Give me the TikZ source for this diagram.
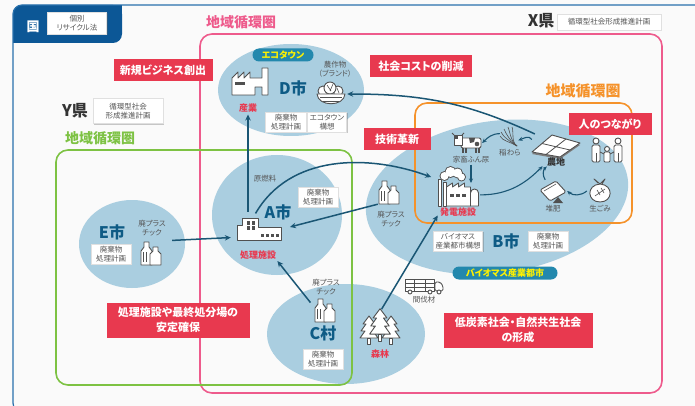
\documentclass[tikz,border=0pt]{standalone}
\usepackage{fontspec}
\setmainfont{Noto Sans CJK JP}[RawFeature=+palt]
\usetikzlibrary{arrows.meta,shadows}

\definecolor{paper}{HTML}{FAFAFA}
\definecolor{frameblue}{HTML}{2870AC}
\definecolor{tabblue}{HTML}{0C5796}
\definecolor{ringpink}{HTML}{EE5B8C}
\definecolor{ringgreen}{HTML}{7DC243}
\definecolor{ringorange}{HTML}{F5922A}
\definecolor{labred}{HTML}{E8394F}
\definecolor{cityblue}{HTML}{AACEE0}
\definecolor{citytext}{HTML}{0E5B85}
\definecolor{flowline}{HTML}{1A5674}
\definecolor{pillteal}{HTML}{2388AD}
\definecolor{pillyellow}{HTML}{FFF200}
\definecolor{icongray}{HTML}{505050}
\definecolor{textgray}{HTML}{555555}
\definecolor{darktext}{HTML}{333333}

\tikzset{
  redlabel/.style={fill=labred, text=white, font=\bfseries\fontsize{11}{14.5}\selectfont,
    align=center, inner sep=0pt, minimum height=22pt},
  planbox/.style={fill=white, draw=black!12,
    drop shadow={shadow xshift=1.2pt, shadow yshift=-1.2pt, opacity=.35, fill=black!60},
    font=\fontsize{7.5}{9}\selectfont, text=textgray, align=center, inner sep=2pt, minimum height=20pt},
  cityname/.style={font=\bfseries\fontsize{16}{16}\selectfont, text=citytext, inner sep=0pt},
  note/.style={font=\fontsize{7.5}{9.5}\selectfont, text=textgray, align=center, inner sep=0pt},
  facility/.style={font=\bfseries\fontsize{9}{10}\selectfont, text=labred, inner sep=0pt},
  ringtitle/.style={font=\bfseries\fontsize{14}{14}\selectfont, inner sep=0pt},
  ring/.style={line width=1.6pt, rounded corners=12pt},
  pill/.style={fill=pillteal, text=pillyellow, rounded corners=6.5pt,
    font=\bfseries\fontsize{9}{10}\selectfont, inner sep=0pt, minimum height=13pt},
  holder/.style 2 args={inner sep=0pt, minimum width=#1pt, minimum height=#2pt},
  flow/.style={draw=flowline, line width=1.5pt, -{Stealth[length=6pt,width=5.5pt]}},
  subflow/.style={draw=flowline, line width=1.1pt, -{Stealth[length=4.5pt,width=4pt]}},
  icon/.style={draw=icongray, fill=white, line width=0.9pt, line join=round},
  pics/bottles/.style={code={
    \draw[icon] (-11,12) -- (-11,-2) -- (-8,-6) -- (-8,-11) -- (-3,-11) -- (-3,-6) -- (0,-2) -- (0,12) -- cycle;
    \draw[icongray, line width=.7pt] (-8.5,-1) -- (-8.5,9) (-6,-1) -- (-6,9);
    \draw[icon] (-2,12) -- (-2,1) -- (1,-2) -- (1,-6) -- (6,-6) -- (6,-2) -- (9,1) -- (9,12) -- cycle;
  }},
  pics/tree/.style={code={
    \draw[icon] (0,-15) -- (-6,-7) -- (-3,-7) -- (-8,0) -- (-4,0) -- (-9,7) -- (9,7) -- (4,0)
      -- (8,0) -- (3,-7) -- (6,-7) -- cycle;
    \draw[icon] (-1.5,7) rectangle (1.5,13);
  }},
}

\begin{document}
\begin{tikzpicture}[x=1pt,y=-1pt]
\useasboundingbox (0,0) rectangle (695,406);
\fill[paper] (0,0) rectangle (695,406);

% city areas
\fill[cityblue] (291,90) ellipse [x radius=73, y radius=46];
\fill[cityblue] (132,244) ellipse [x radius=53, y radius=44];
\fill[cityblue] (277,215) ellipse [x radius=65, y radius=60];
\fill[cityblue] (346,334) ellipse [x radius=79, y radius=50];
\fill[cityblue, rotate around={8:(497,197)}] (497,197) ellipse [x radius=132, y radius=76];

% national frame with its tab
\fill[tabblue, rounded corners=9pt] (13,5) rectangle (122,43);
\fill[tabblue] (13,25) rectangle (40,43);
\fill[tabblue] (95,5) rectangle (122,25);
\draw[frameblue, line width=1.2pt] (696,5) [rounded corners=9pt] -- (13,5) -- (13,412) -- (696,412);
\node[text=white, font=\bfseries\fontsize{13}{13}\selectfont, inner sep=0pt] (kuni) at (33,27) {国};
\node[planbox, minimum width=59pt, minimum height=22pt] (kunilaw) at (77,23) {個別\\リサイクル法};

% regional rings
\draw[ring, ringpink] (200,34) rectangle (662,393);
\draw[ring, ringgreen] (56,150) rectangle (352,385);
\draw[ring, ringorange] (415,103) rectangle (632,223);
\node[ringtitle, text=ringpink] (pinktitle) at (241,22) {地域循環圏};
\node[ringtitle, text=ringgreen] (greentitle) at (100,138) {地域循環圏};
\node[ringtitle, text=ringorange, font=\bfseries\fontsize{15}{15}\selectfont] (orangetitle) at (583,91) {地域循環圏};

% prefectures
\node[cityname, text=darktext] (kenx) at (541,21) {X県};
\node[planbox, minimum width=104pt, minimum height=16pt] (xplan) at (609,22) {循環型社会形成推進計画};
\node[cityname, text=darktext] (keny) at (75,111) {Y県};
\node[planbox, minimum width=70pt, minimum height=25pt] (yplan) at (128,111) {循環型社会\\形成推進計画};

% D city
\node[pill, minimum width=61pt] (ecotown) at (283,55) {エコタウン};
\node[holder={36}{27}] (dfac) at (250,81) {};
\begin{scope}[shift={(dfac)}]
  \draw[icon] (-18,14) -- (-18,-3) -- (-12,-9) -- (-12,-3) -- (-6,-9) -- (-6,-3) -- (0,-9) -- (0,-3)
    -- (12,-3) -- (12,-13) -- (18,-13) -- (18,14) -- (12,14) -- (12,6) -- (5,6) -- (5,14) -- cycle;
  \fill[icongray] (-15,1) rectangle (-5,4);
\end{scope}
\node[facility] (sangyo) at (248,108) {産業};
\node[cityname] (dcity) at (293,88) {D市};
\node[note] (crop) at (335,69) {農作物\\（ブランド）};
\node[holder={28}{24}] (basket) at (331,94) {};
\begin{scope}[shift={(basket)}]
  \draw[icon] (-8,-3) circle (5);
  \draw[icon] (7,-3) circle (5);
  \draw[icon] (-1,-6) circle (6);
  \draw[icongray, line width=.6pt] (-4,-9) -- (0,-3) (2,-10) -- (-1,-3) (6,-6) -- (8,-1);
  \draw[icon] (-14,0) .. controls (-13,13) and (13,13) .. (14,0) -- cycle;
  \draw[icongray, line width=.6pt] (-11,3.5) -- (11,3.5) (-8,7) -- (8,7);
\end{scope}
\node[planbox, minimum width=41pt] (dplan) at (286,122) {廃棄物\\処理計画};
\node[planbox, minimum width=39pt] (ecoplan) at (327,122) {エコタウン\\構想};

% E city
\node[cityname] (ecity) at (112,232) {E市};
\node[planbox, minimum width=40pt] (eplan) at (111,254) {廃棄物\\処理計画};
\node[note] (eplas) at (152,228) {廃プラス\\チック};
\node[holder={24}{24}] (ebot) at (152,253) {};
\pic at (ebot) {bottles};

% A city
\node[cityname] (acity) at (278,212) {A市};
\node[note] (fuel) at (265,179) {原燃料};
\node[planbox, minimum width=40pt] (aplan) at (318,197) {廃棄物\\処理計画};
\node[holder={45}{22}] (aplant) at (259.5,229) {};
\begin{scope}[shift={(aplant)}]
  \draw[icon] (-22,11) -- (-22,-4) -- (-17,-4) -- (-17,-11) -- (-1,-11) -- (-1,-2) -- (22,-2) -- (22,11) -- cycle;
  \foreach \wx/\wy in {-13/-8,-8/-8,-13/-3,-8/-3} \fill[icongray] (\wx,\wy) rectangle (\wx+3.5,\wy+3.5);
  \foreach \i in {0,...,3} \fill[icongray] (1+\i*5,5) rectangle (4+\i*5,7.5);
\end{scope}
\node[facility] (shori) at (258,255) {処理施設};

% B city
\node[holder={24}{24}] (bbot) at (390,192) {};
\pic at (bbot) {bottles};
\node[note] (bplas) at (391,219) {廃プラス\\チック};
\node[holder={18}{20}] (straw) at (509,137) {};
\begin{scope}[shift={(straw)}]
  \foreach \ex/\ey in {-9/-1,-8/-5,-5/-8,-1/-10,3/-10}
    \draw[icongray, line width=.6pt] (8,9) .. controls (2,5) and (\ex+2,\ey+5) .. (\ex,\ey);
\end{scope}
\node[note] (strawtxt) at (510,153) {稲わら};
\node[holder={28}{20}] (cow) at (468,143) {};
\begin{scope}[shift={(cow)}]
  \draw[icongray, line width=1.3pt] (-5,4) -- (-5,10) (-2,4) -- (-2,10) (8,4) -- (8,10) (11,4) -- (11,10);
  \draw[icon, rounded corners=2pt] (-7,-5) rectangle (13,5);
  \fill[icongray] (1,-5) -- (7,-5) -- (6,-1) -- (2,0) -- cycle;
  \fill[icongray] (9,1) circle (2.3);
  \draw[icon] (-14,-8) rectangle (-6,2);
  \fill[icongray] (-14,-8) rectangle (-10,-4);
  \draw[icongray, line width=.8pt] (-14,-8) -- (-16,-10) (-6,-8) -- (-4,-10);
\end{scope}
\node[note] (chikusan) at (471,160) {家畜ふん尿};
\node[holder={48}{22}] (farm) at (556,146) {};
\begin{scope}[shift={(farm)}]
  \fill[icongray!75] (-24,8) -- (-4,-9) -- (24,-1) -- (4,13) -- cycle;
  \draw[icon] (-24,6) -- (-4,-11) -- (24,-3) -- (4,11) -- cycle;
  \draw[icongray, line width=.8pt] (-14,-2.5) -- (14,4) (-10,8.5) -- (10,-7);
\end{scope}
\node[font=\bfseries\fontsize{9}{10}\selectfont, text=darktext, inner sep=0pt] (nouchi) at (556,162) {農地};
\node[holder={43}{38}] (power) at (458.5,187) {};
\begin{scope}[shift={(power)}]
  \foreach \cx/\cy/\r in {-14/-11/4,-8/-15/5,-1/-14/4.5,3/-10/3.5}
    \draw[icongray, line width=1.8pt] (\cx,\cy) circle (\r);
  \foreach \cx/\cy/\r in {-14/-11/4,-8/-15/5,-1/-14/4.5,3/-10/3.5}
    \fill[white] (\cx,\cy) circle (\r);
  \draw[icon] (-20,19) rectangle (-17,-8);
  \draw[icon] (-15,19) rectangle (-12,-5);
  \draw[icon] (-12,19) -- (-12,0) -- (-6,-4) -- (-6,0) -- (0,-4) -- (0,0) -- (6,-4) -- (6,0) -- (12,0) -- (12,19) -- cycle;
  \foreach \wx in {-9,-3,3} \fill[icongray] (\wx,7) rectangle (\wx+4,10);
  \draw[icon] (12,19) -- (12,6) arc (180:360:4) -- (20,19) -- cycle;
\end{scope}
\node[facility] (hatsuden) at (458,212) {発電施設};
\node[holder={28}{22}] (compost) at (553,191) {};
\begin{scope}[shift={(compost)}]
  \draw[icon, rounded corners=1.5pt] (-13,-1) -- (3,-10) -- (13,1) -- (-3,10) -- cycle;
  \draw[icongray, line width=.6pt] (-9,0) -- (3,-7);
  \fill[icongray] (0,12) -- (5,6) -- (10,12) -- cycle;
\end{scope}
\node[note] (taihi) at (553,209) {堆肥};
\node[holder={26}{24}] (garbage) at (600,191) {};
\begin{scope}[shift={(garbage)}]
  \draw[icon] (0,-7) .. controls (-14,-6) and (-13,11) .. (0,11) .. controls (13,11) and (14,-6) .. (0,-7) -- cycle;
  \draw[icon] (0,-7) -- (-6,-12) -- (-2,-8) (0,-7) -- (5,-12) -- (2,-7);
  \draw[icongray, line width=.6pt] (-5,5) -- (5,-2) (-3,-1) -- (0,4) (1,-3) -- (4,2);
\end{scope}
\node[note] (namagomi) at (600,209) {生ごみ};
\node[holder={36}{26}] (family) at (607,150) {};
\begin{scope}[shift={(family)}]
  \foreach \px in {-11,11} {
    \draw[icon] (\px,-9) circle (3);
    \draw[icon, rounded corners=1.5pt] (\px-4,12) -- (\px-4,-5) -- (\px+4,-5) -- (\px+4,12) -- cycle;
    \draw[icongray, line width=.6pt] (\px,3) -- (\px,12);
  }
  \draw[icon] (0,-1) circle (2.5);
  \draw[icon, rounded corners=1pt] (-3,12) -- (-3,2) -- (3,2) -- (3,12) -- cycle;
  \draw[icongray, line width=.8pt] (-7,2) -- (-3,4) (7,2) -- (3,4);
\end{scope}
\node[planbox, minimum width=49pt] (bioplan) at (458,241) {バイオマス\\産業都市構想};
\node[cityname] (bcity) at (506,241) {B市};
\node[planbox, minimum width=40pt] (bplan) at (548,241) {廃棄物\\処理計画};
\node[pill, minimum width=105pt] (biotown) at (505,273) {バイオマス産業都市};

% thinned wood and forest
\node[holder={38}{15}] (truck) at (424,285) {};
\begin{scope}[shift={(truck)}]
  \draw[icon] (-19,-6) rectangle (10,6);
  \draw[icongray, line width=.6pt] (-19,-2) -- (10,-2) (-19,2) -- (10,2) (-10,-6) -- (-10,6) (1,-6) -- (1,6);
  \draw[icon, rounded corners=1.5pt] (11,6) -- (11,-3) -- (16,-3) -- (19,1) -- (19,6) -- cycle;
  \foreach \wx in {-14,6,15} \draw[icon] (\wx,7) circle (2);
\end{scope}
\node[note] (kanbatsu) at (424,300) {間伐材};
\node[holder={38}{32}] (trees) at (380,328) {};
\pic at (369,331) {tree};
\pic at (391,331) {tree};
\pic[scale=1.15] at (380,326) {tree};
\node[facility] (shinrin) at (380,354) {森林};

% C village
\node[note] (cplas) at (326,287) {廃プラス\\チック};
\node[holder={22}{24}] (cbot) at (326,310) {};
\pic at (cbot) {bottles};
\node[cityname] (ccity) at (323,333) {C村};
\node[planbox, minimum width=40pt] (cplan) at (323,359) {廃棄物\\処理計画};

% flows between cities
\draw[flow, shorten <=6pt, shorten >=2pt] (aplant.north -| sangyo.south) -- (sangyo.south);
\draw[flow, shorten <=8pt, shorten >=6pt] (ebot.north east) -- (aplant.200);
\draw[flow, shorten <=7pt, shorten >=2pt] (cbot.170) -- (shori.south east);
\draw[flow, shorten <=5pt, shorten >=6pt] (aplant.120) to[out=60,in=160] (power.160);
\draw[flow, shorten >=8pt] (bbot.south west) -- (aplant.east);
\draw[flow, shorten <=3pt, shorten >=4pt] (trees.north) -- (hatsuden.west);
\draw[flow, shorten <=2pt, shorten >=2pt] (farm.150) to[out=155,in=0] (basket.east);

% flows inside B city
\draw[subflow] (farm.165) to[out=120,in=20] (straw.-20);
\draw[subflow] (straw.160) to[out=180,in=45] (cow.east);
\draw[subflow, shorten <=1pt, shorten >=4pt] (chikusan.south) -- (chikusan.south |- power.center);
\draw[subflow, shorten >=6pt] (power.-20) to[out=0,in=225] (nouchi.west);
\draw[subflow] (compost.125) to[bend left=40] (nouchi.south west);
\draw[subflow] (garbage.west) to[bend left=40] (compost.east);

% effects
\node[redlabel, minimum width=99pt] (business) at (163,70) {新規ビジネス創出};
\node[redlabel, minimum width=102pt] (cost) at (421,66) {社会コストの削減};
\node[redlabel, minimum width=67pt] (innov) at (397,139) {技術革新};
\node[redlabel, minimum width=83pt] (bonds) at (610,124) {人のつながり};
\node[redlabel, minimum width=143pt, minimum height=35pt] (secure) at (178,320) {処理施設や最終処分場の\\安定確保};
\node[redlabel, minimum width=149pt, minimum height=35pt] (lowcarbon) at (518,330) {低炭素社会・自然共生社会\\の形成};
\end{tikzpicture}
\end{document}
